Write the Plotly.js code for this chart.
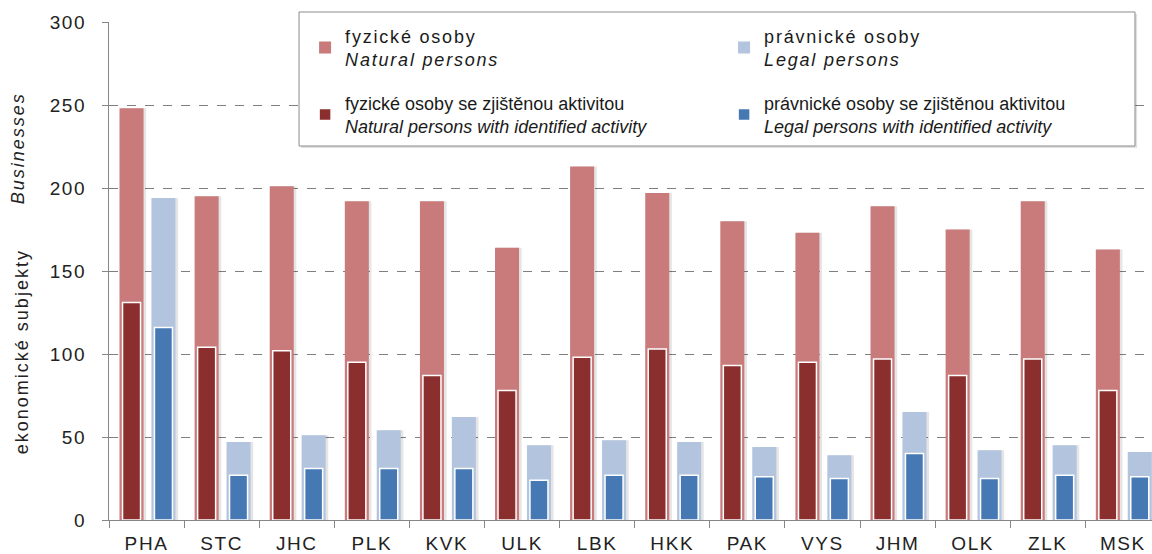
<!DOCTYPE html>
<html>
<head>
<meta charset="utf-8">
<script src="https://cdn.plot.ly/plotly-3.0.1.min.js"></script>
<style>
  html, body { margin: 0; padding: 0; background: #fff; }
  #chart { width: 1152px; height: 554px; }
  .legendtext { letter-spacing: 1.8px; }
  .xtick text, .ytick text { letter-spacing: 1.6px; }
  .annotation-text { letter-spacing: 2px; }
</style>
</head>
<body>
<div id="chart"></div>
<script>
// ---- data ----
const regions = ['PHA','STC','JHC','PLK','KVK','ULK','LBK','HKK','PAK','VYS','JHM','OLK','ZLK','MSK'];
const naturalPersons       = [248, 195, 201, 192, 192, 164, 213, 197, 180, 173, 189, 175, 192, 163];
const naturalPersonsActive = [131, 104, 102,  95,  87,  78,  98, 103,  93,  95,  97,  87,  97,  78];
const legalPersons         = [194,  47,  51,  54,  62,  45,  48,  47,  44,  39,  65,  42,  45,  41];
const legalPersonsActive   = [116,  27,  31,  31,  31,  24,  27,  27,  26,  25,  40,  25,  27,  26];

const seriesNames = {
  natural: 'fyzické osoby<br><i>Natural persons</i>',
  legal: 'právnické osoby<br><i>Legal persons</i>',
  naturalActive: 'fyzické osoby se zjištěnou aktivitou<br><i>Natural persons with identified activity</i>',
  legalActive: 'právnické osoby se zjištěnou aktivitou<br><i>Legal persons with identified activity</i>'
};
const yTitleCz = 'ekonomické subjekty';
const yTitleEn = 'Businesses';

// ---- styling ----
const FONT = 'Liberation Sans, Arial, sans-serif';
const C_NAT = '#C97A7A', C_NAT_A = '#8B2E2E', C_LEG = '#B3C4DF', C_LEG_A = '#4678B4';
const SHADOW = 'rgba(0,0,0,0.10)';

const W_LIGHT = 0.32, W_DARK = 0.24;
const OFF_NAT = -0.36, OFF_LEG = 0.065;

function bar(y, color, width, offset, name, legend, extra) {
  return Object.assign({
    type: 'bar', x: regions, y: y, name: name, legend: legend,
    width: width, offset: offset,
    marker: { color: color, line: { width: 0 } },
    hoverinfo: 'x+y'
  }, extra || {});
}

const traces = [
  // soft shadows
  bar(naturalPersons, SHADOW, W_LIGHT, OFF_NAT + 0.035, '', 'legend', {showlegend: false, hoverinfo: 'skip'}),
  bar(legalPersons, SHADOW, W_LIGHT, OFF_LEG + 0.035, '', 'legend', {showlegend: false, hoverinfo: 'skip'}),
  // light (total) bars
  bar(naturalPersons, C_NAT, W_LIGHT, OFF_NAT, seriesNames.natural, 'legend'),
  bar(legalPersons, C_LEG, W_LIGHT, OFF_LEG, seriesNames.legal, 'legend'),
  // dark (active) bars
  bar(naturalPersonsActive, C_NAT_A, W_DARK, OFF_NAT + (W_LIGHT - W_DARK) / 2, seriesNames.naturalActive, 'legend2',
      {marker: {color: C_NAT_A, line: {color: '#ffffff', width: 1.5}}}),
  bar(legalPersonsActive, C_LEG_A, W_DARK, OFF_LEG + (W_LIGHT - W_DARK) / 2, seriesNames.legalActive, 'legend2',
      {marker: {color: C_LEG_A, line: {color: '#ffffff', width: 1.5}}})
];

const legendCommon = {
  orientation: 'h', xanchor: 'left', yanchor: 'top',
  x: 0.188, entrywidth: 374, entrywidthmode: 'pixels',
  bgcolor: 'rgba(0,0,0,0)', borderwidth: 0,
  font: { family: FONT, size: 18, color: '#1a1a1a' },
  itemclick: false, itemdoubleclick: false
};

const layout = {
  width: 1152, height: 554,
  margin: { l: 109, r: 0, t: 22, b: 34, pad: 0 },
  paper_bgcolor: '#ffffff', plot_bgcolor: '#ffffff',
  barmode: 'overlay',
  showlegend: true,
  legend: Object.assign({}, legendCommon, { y: 1.009 }),
  legend2: Object.assign({}, legendCommon, { y: 0.8745 }),
  xaxis: {
    type: 'category', range: [-0.5, 13.388],
    showline: true, linecolor: '#868686', linewidth: 1,
    ticks: 'outside', tickson: 'boundaries', ticklen: 7, tickcolor: '#868686',
    tickfont: { family: FONT, size: 19, color: '#222' },
    ticklabelstandoff: 6,
    showgrid: false, zeroline: false, fixedrange: true
  },
  yaxis: {
    range: [0, 300], dtick: 50, tick0: 0,
    showline: true, linecolor: '#868686', linewidth: 1,
    ticks: 'outside', ticklen: 6, tickcolor: '#868686',
    tickfont: { family: FONT, size: 19, color: '#222' },
    ticklabelstandoff: 12,
    showgrid: true, gridcolor: '#7f7f7f', gridwidth: 1, griddash: 'dash',
    zeroline: false, fixedrange: true
  },
  shapes: [
    { type: 'rect', xref: 'paper', yref: 'paper', x0: 0.1842, x1: 0.9857, y0: 0.747, y1: 1.016,
      line: { width: 0 }, fillcolor: 'rgba(0,0,0,0.12)', layer: 'above' },
    { type: 'rect', xref: 'paper', yref: 'paper', x0: 0.1822, x1: 0.9837, y0: 0.751, y1: 1.0201,
      line: { color: '#8c8c8c', width: 1 }, fillcolor: '#ffffff', layer: 'above' }
  ],
  annotations: [
    { text: yTitleCz, xref: 'paper', yref: 'paper', x: -0.0834, y: 0.337,
      textangle: -90, showarrow: false, xanchor: 'center', yanchor: 'middle',
      font: { family: FONT, size: 18, color: '#222' } },
    { text: '<i>' + yTitleEn + '</i>', xref: 'paper', yref: 'paper', x: -0.087, y: 0.747,
      textangle: -90, showarrow: false, xanchor: 'center', yanchor: 'middle',
      font: { family: FONT, size: 18, color: '#222' } }
  ]
};

Plotly.newPlot('chart', traces, layout, { displayModeBar: false, staticPlot: false });
</script>
</body>
</html>
